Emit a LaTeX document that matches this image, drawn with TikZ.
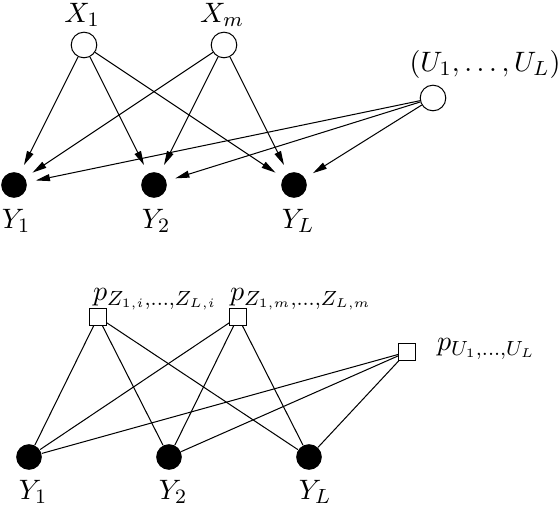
\documentclass[tikz,border=0pt]{standalone}
\usepackage{amsmath,amssymb}
\usepackage{tikz}
\usetikzlibrary{arrows.meta,positioning,calc}

\tikzset{
  hidvar/.style={circle,draw,fill=white,inner sep=0pt,minimum size=10pt},
  obsvar/.style={circle,fill=black,inner sep=0pt,minimum size=10pt},
  factor/.style={rectangle,draw,fill=white,inner sep=0pt,minimum size=6.5pt},
  dirarc/.style={-{Triangle[length=5.5pt,width=2.7pt]},shorten >=3.5pt},
}

\begin{document}
\begin{tikzpicture}[x=0.39pt,y=-0.39pt,font=\fontsize{11}{13}\selectfont]
\useasboundingbox (0,0) rectangle (558,506);

% directed model
\node[hidvar] (x1) at (84,45) {};
\node[hidvar] (xm) at (224,45) {};
\node[hidvar] (u) at (433,98) {};
\node[obsvar] (y1) at (14,185) {};
\node[obsvar] (y2) at (154,185) {};
\node[obsvar] (yl) at (294,185) {};

\node (lx1) at (82,15) {$X_1$};
\node (lxm) at (222,15) {$X_m$};
\node (lu) at (485,64) {$(U_1,\ldots,U_L)$};
\node (ly1) at (16,221) {$Y_1$};
\node (ly2) at (156,221) {$Y_2$};
\node (lyl) at (298,221) {$Y_L$};

\foreach \s in {x1,xm,u}
  \foreach \t in {y1,y2,yl}
    \draw[dirarc] (\s) -- (\t);

% factor graph
\node[factor] (f1) at (98,317) {};
\node[factor] (fm) at (238,317) {};
\node[factor] (fu) at (407,352) {};
\node[obsvar] (b1) at (29,457) {};
\node[obsvar] (b2) at (169,457) {};
\node[obsvar] (bl) at (309,457) {};

\node[anchor=base west] (lf1) at (84,301) {$p_{Z_{1,i},\ldots,Z_{L,i}}$};
\node[anchor=base west] (lfm) at (221,301) {$p_{Z_{1,m},\ldots,Z_{L,m}}$};
\node[anchor=base west] (lfu) at (428,351) {$p_{U_1,\ldots,U_L}$};
\node (lb1) at (33,492) {$Y_1$};
\node (lb2) at (173,492) {$Y_2$};
\node (lbl) at (315,492) {$Y_L$};

\foreach \s in {f1,fm,fu}
  \foreach \t in {b1,b2,bl}
    \draw (\s) -- (\t);
\end{tikzpicture}
\end{document}
